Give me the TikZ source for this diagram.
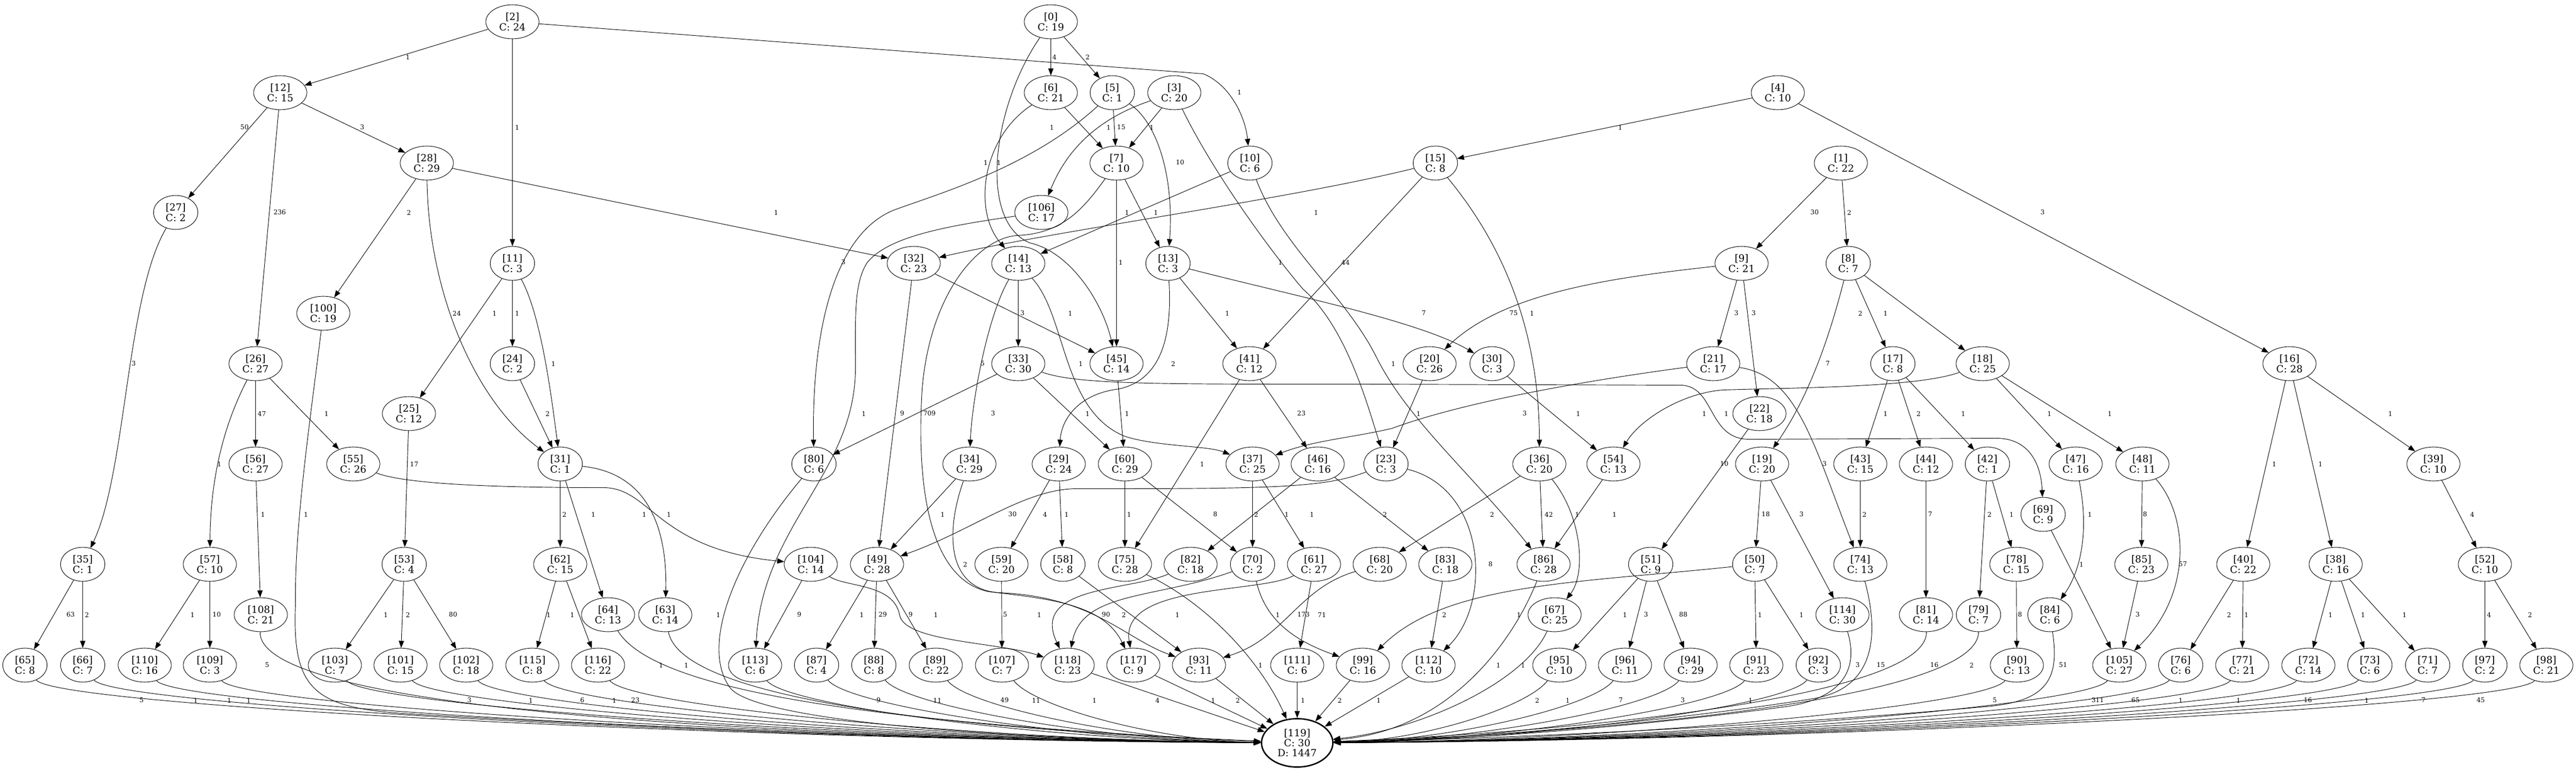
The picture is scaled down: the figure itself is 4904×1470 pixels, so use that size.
\documentclass[tikz,border=0pt]{standalone}
\usepackage{fontspec}
\setmainfont{DejaVu Serif}
\usetikzlibrary{shapes.geometric,arrows.meta}
\tikzset{
  st/.style={draw,ellipse,line width=0.7pt,align=center,inner xsep=8pt,inner ysep=4.5pt,font=\fontsize{14}{14.5}\selectfont},
  fin/.style={st,line width=2pt},
  lbl/.style={inner sep=0pt,font=\fontsize{9.2}{10}\selectfont},
  edge/.style={line width=0.7pt,-{Triangle[length=10pt,width=7.5pt]}}
}
\begin{document}
\begin{tikzpicture}[x=0.75pt,y=0.75pt,yscale=-1,xscale=1]
\useasboundingbox (0,0) rectangle (4904,1470);
\begin{scope}[shift={(0.5,0.5)}]

% Nodes
\node[st] (n2) at (975,41) {[2]\\C: 24};
\node[st] (n0) at (2000,41) {[0]\\C: 19};
\node[st] (n12) at (533,176) {[12]\\C: 15};
\node[st] (n6) at (2000,176) {[6]\\C: 21};
\node[st] (n5) at (2117,176) {[5]\\C: 1};
\node[st] (n3) at (2235,176) {[3]\\C: 20};
\node[st] (n4) at (3384,176) {[4]\\C: 10};
\node[st] (n28) at (812,310) {[28]\\C: 29};
\node[st] (n7) at (2125,310) {[7]\\C: 10};
\node[st] (n10) at (2379,310) {[10]\\C: 6};
\node[st] (n15) at (2732,310) {[15]\\C: 8};
\node[st] (n1) at (3504,310) {[1]\\C: 22};
\node[st] (n27) at (334,404) {[27]\\C: 2};
\node[st] (n106) at (1982,404) {[106]\\C: 17};
\node[st] (n11) at (975,501) {[11]\\C: 3};
\node[st] (n32) at (1739,501) {[32]\\C: 23};
\node[st] (n14) at (1938,501) {[14]\\C: 13};
\node[st] (n13) at (2223,501) {[13]\\C: 3};
\node[st] (n9) at (3315,501) {[9]\\C: 21};
\node[st] (n8) at (3518,501) {[8]\\C: 7};
\node[st] (n100) at (615,596) {[100]\\C: 19};
\node[st] (n26) at (486,692) {[26]\\C: 27};
\node[st] (n24) at (975,692) {[24]\\C: 2};
\node[st] (n33) at (1938,692) {[33]\\C: 30};
\node[st] (n45) at (2125,692) {[45]\\C: 14};
\node[st] (n41) at (2378,692) {[41]\\C: 12};
\node[st] (n20) at (2721,692) {[20]\\C: 26};
\node[st] (n30) at (2840,692) {[30]\\C: 3};
\node[st] (n21) at (3261,692) {[21]\\C: 17};
\node[st] (n17) at (3603,692) {[17]\\C: 8};
\node[st] (n18) at (3774,692) {[18]\\C: 25};
\node[st] (n16) at (4358,692) {[16]\\C: 28};
\node[st] (n25) at (778,787) {[25]\\C: 12};
\node[st] (n22) at (3349,787) {[22]\\C: 18};
\node[st] (n56) at (486,883) {[56]\\C: 27};
\node[st] (n55) at (672,883) {[55]\\C: 26};
\node[st] (n31) at (1066,883) {[31]\\C: 1};
\node[st] (n80) at (1549,883) {[80]\\C: 6};
\node[st] (n34) at (1845,883) {[34]\\C: 29};
\node[st] (n29) at (2015,883) {[29]\\C: 24};
\node[st] (n60) at (2141,883) {[60]\\C: 29};
\node[st] (n37) at (2384,883) {[37]\\C: 25};
\node[st] (n46) at (2508,883) {[46]\\C: 16};
\node[st] (n23) at (2638,883) {[23]\\C: 3};
\node[st] (n36) at (2930,883) {[36]\\C: 20};
\node[st] (n54) at (3071,883) {[54]\\C: 13};
\node[st] (n19) at (3354,883) {[19]\\C: 20};
\node[st] (n43) at (3541,883) {[43]\\C: 15};
\node[st] (n44) at (3666,883) {[44]\\C: 12};
\node[st] (n42) at (3783,883) {[42]\\C: 1};
\node[st] (n47) at (3951,883) {[47]\\C: 16};
\node[st] (n48) at (4078,883) {[48]\\C: 11};
\node[st] (n39) at (4632,883) {[39]\\C: 10};
\node[st] (n69) at (3889,979) {[69]\\C: 9};
\node[st] (n35) at (157,1074) {[35]\\C: 1};
\node[st] (n57) at (399,1074) {[57]\\C: 10};
\node[st] (n53) at (769,1074) {[53]\\C: 4};
\node[st] (n62) at (1066,1074) {[62]\\C: 15};
\node[st] (n104) at (1543,1074) {[104]\\C: 14};
\node[st] (n49) at (1669,1074) {[49]\\C: 28};
\node[st] (n59) at (1906,1074) {[59]\\C: 20};
\node[st] (n58) at (2023,1074) {[58]\\C: 8};
\node[st] (n75) at (2141,1074) {[75]\\C: 28};
\node[st] (n82) at (2266,1074) {[82]\\C: 18};
\node[st] (n70) at (2384,1074) {[70]\\C: 2};
\node[st] (n61) at (2501,1074) {[61]\\C: 27};
\node[st] (n68) at (2626,1074) {[68]\\C: 20};
\node[st] (n83) at (2751,1074) {[83]\\C: 18};
\node[st] (n86) at (2938,1074) {[86]\\C: 28};
\node[st] (n51) at (3142,1074) {[51]\\C: 9};
\node[st] (n50) at (3340,1074) {[50]\\C: 7};
\node[st] (n74) at (3541,1074) {[74]\\C: 13};
\node[st] (n78) at (3838,1074) {[78]\\C: 15};
\node[st] (n85) at (4076,1074) {[85]\\C: 23};
\node[st] (n40) at (4270,1074) {[40]\\C: 22};
\node[st] (n38) at (4446,1074) {[38]\\C: 16};
\node[st] (n52) at (4730,1074) {[52]\\C: 10};
\node[st] (n108) at (496,1170) {[108]\\C: 21};
\node[st] (n64) at (1157,1170) {[64]\\C: 13};
\node[st] (n63) at (1266,1170) {[63]\\C: 14};
\node[st] (n67) at (2959,1170) {[67]\\C: 25};
\node[st] (n114) at (3507,1170) {[114]\\C: 30};
\node[st] (n81) at (3666,1170) {[81]\\C: 14};
\node[st] (n79) at (3766,1170) {[79]\\C: 7};
\node[st] (n84) at (3902,1170) {[84]\\C: 6};
\node[st] (n65) at (47,1266) {[65]\\C: 8};
\node[st] (n66) at (157,1266) {[66]\\C: 7};
\node[st] (n110) at (275,1266) {[110]\\C: 16};
\node[st] (n109) at (399,1266) {[109]\\C: 3};
\node[st] (n103) at (637,1266) {[103]\\C: 7};
\node[st] (n101) at (762,1266) {[101]\\C: 15};
\node[st] (n102) at (887,1266) {[102]\\C: 18};
\node[st] (n115) at (1013,1266) {[115]\\C: 8};
\node[st] (n116) at (1138,1266) {[116]\\C: 22};
\node[st] (n113) at (1437,1266) {[113]\\C: 6};
\node[st] (n87) at (1554,1266) {[87]\\C: 4};
\node[st] (n88) at (1663,1266) {[88]\\C: 8};
\node[st] (n89) at (1781,1266) {[89]\\C: 22};
\node[st] (n107) at (1907,1266) {[107]\\C: 7};
\node[st] (n118) at (2032,1266) {[118]\\C: 23};
\node[st] (n117) at (2157,1266) {[117]\\C: 9};
\node[st] (n93) at (2282,1266) {[93]\\C: 11};
\node[st] (n111) at (2469,1266) {[111]\\C: 6};
\node[st] (n99) at (2594,1266) {[99]\\C: 16};
\node[st] (n112) at (2719,1266) {[112]\\C: 10};
\node[st] (n95) at (2968,1266) {[95]\\C: 10};
\node[st] (n96) at (3093,1266) {[96]\\C: 11};
\node[st] (n94) at (3218,1266) {[94]\\C: 29};
\node[st] (n91) at (3343,1266) {[91]\\C: 23};
\node[st] (n92) at (3461,1266) {[92]\\C: 3};
\node[st] (n90) at (3839,1266) {[90]\\C: 13};
\node[st] (n105) at (4034,1266) {[105]\\C: 27};
\node[st] (n76) at (4151,1266) {[76]\\C: 6};
\node[st] (n77) at (4268,1266) {[77]\\C: 21};
\node[st] (n72) at (4394,1266) {[72]\\C: 14};
\node[st] (n73) at (4511,1266) {[73]\\C: 6};
\node[st] (n71) at (4621,1266) {[71]\\C: 7};
\node[st] (n97) at (4730,1266) {[97]\\C: 2};
\node[st] (n98) at (4847,1266) {[98]\\C: 21};
\node[fin] (n119) at (2469,1414) {[119]\\C: 30\\D: 1447};

% Edges from the top ranks
\draw[edge] (n2) -- (n12);
\draw[edge] (n2) -- (n11);
\draw[edge] (n2) -- (2290,140) .. controls (2340,160) and (2370,220) .. (n10);
\draw[edge] (n0) -- (n6);
\draw[edge] (n0) -- (n5);
\draw[edge] (n0) .. controls (1890,200) and (1860,420) .. (1960,462) .. controls (2040,480) and (2100,580) .. (n45);
\draw[edge] (n12) -- (n27);
\draw[edge] (n12) -- (n26);
\draw[edge] (n12) -- (n28);
\draw[edge] (n6) -- (n7);
\draw[edge] (n6) .. controls (1870,260) and (1850,400) .. (n14);
\draw[edge] (n5) -- (n7);
\draw[edge] (n5) .. controls (2200,230) and (2235,330) .. (n13);
\draw[edge] (n5) .. controls (1960,320) and (1780,370) .. (1700,400) .. controls (1580,450) and (1545,650) .. (n80);
\draw[edge] (n3) -- (n7);
\draw[edge] (n3) .. controls (2120,215) and (2040,260) .. (n106);
\draw[edge] (n3) .. controls (2310,330) and (2420,480) .. (2480,550) .. controls (2560,620) and (2600,760) .. (n23);
\draw[edge] (n4) -- (n15);
\draw[edge] (n4) -- (n16);
\draw[edge] (n28) -- (n100);
\draw[edge] (n28) .. controls (815,550) and (900,760) .. (n31);
\draw[edge] (n28) -- (n32);
\draw[edge] (n7) -- (n45);
\draw[edge] (n7) -- (n13);
\draw[edge] (n7) .. controls (2060,400) and (2020,445) .. (1934,448) .. controls (1860,455) and (1770,560) .. (1755,740) .. controls (1745,900) and (1760,1100) .. (1881,1126) .. controls (2000,1140) and (2100,1150) .. (n117);
\draw[edge] (n10) -- (n14);
\draw[edge] (n10) .. controls (2440,470) and (2560,560) .. (2620,680) .. controls (2680,800) and (2800,900) .. (n86);
\draw[edge] (n15) .. controls (2450,380) and (2000,440) .. (n32);
\draw[edge] (n15) -- (n41);
\draw[edge] (n15) .. controls (2840,440) and (2930,600) .. (n36);
\draw[edge] (n1) -- (n9);
\draw[edge] (n1) -- (n8);
\draw[edge] (n27) .. controls (240,560) and (240,900) .. (n35);
\draw[edge] (n106) .. controls (1800,430) and (1690,450) .. (1650,500) .. controls (1625,540) and (1628,600) .. (1628,700) .. controls (1628,900) and (1450,1000) .. (n113);
\draw[edge] (n11) -- (n25);
\draw[edge] (n11) -- (n24);
\draw[edge] (n11) .. controls (1030,600) and (1050,760) .. (n31);
\draw[edge] (n32) -- (n45);
\draw[edge] (n32) -- (n49);
\draw[edge] (n14) -- (n33);
\draw[edge] (n14) .. controls (1880,600) and (1850,760) .. (n34);
\draw[edge] (n14) .. controls (2030,600) and (2020,780) .. (2140,830) .. controls (2200,850) and (2300,848) .. (n37);
\draw[edge] (n13) -- (n41);
\draw[edge] (n13) .. controls (2450,560) and (2700,610) .. (n30);
\draw[edge] (n13) .. controls (2230,620) and (2220,720) .. (2130,740) .. controls (2050,750) and (2020,800) .. (n29);
\draw[edge] (n9) -- (n21);
\draw[edge] (n9) -- (n22);
\draw[edge] (n9) .. controls (3050,530) and (2860,560) .. (n20);
\draw[edge] (n8) -- (n17);
\draw[edge] (n8) -- (n18);
\draw[edge] (n8) .. controls (3480,650) and (3440,760) .. (n19);
\draw[edge] (n100) .. controls (590,800) and (560,1000) .. (562,1150) .. controls (555,1320) and (600,1350) .. (800,1360) .. controls (1400,1395) and (2000,1412) .. (n119);

% Edges from the middle ranks
\draw[edge] (n26) .. controls (430,800) and (400,900) .. (n57);
\draw[edge] (n26) -- (n56);
\draw[edge] (n26) -- (n55);
\draw[edge] (n24) -- (n31);
\draw[edge] (n33) -- (n80);
\draw[edge] (n33) -- (n60);
\draw[edge] (n33) .. controls (2050,732) and (2200,731) .. (2600,731) -- (3200,733) .. controls (3265,735) and (3250,836) .. (3330,836) -- (3800,834) .. controls (3860,834) and (3885,880) .. (n69);
\draw[edge] (n45) -- (n60);
\draw[edge] (n41) -- (n75);
\draw[edge] (n41) -- (n46);
\draw[edge] (n20) -- (n23);
\draw[edge] (n30) -- (n54);
\draw[edge] (n21) .. controls (3050,720) and (2800,760) .. (2650,815) .. controls (2580,832) and (2500,838) .. (n37);
\draw[edge] (n21) .. controls (3420,715) and (3450,840) .. (n74);
\draw[edge] (n17) -- (n43);
\draw[edge] (n17) -- (n44);
\draw[edge] (n17) -- (n42);
\draw[edge] (n18) -- (n47);
\draw[edge] (n18) -- (n48);
\draw[edge] (n18) .. controls (3650,738) and (3400,738) .. (3280,742) .. controls (3200,748) and (3120,800) .. (n54);
\draw[edge] (n16) -- (n40);
\draw[edge] (n16) -- (n38);
\draw[edge] (n16) -- (n39);
\draw[edge] (n25) -- (n53);
\draw[edge] (n22) -- (n51);
\draw[edge] (n56) -- (n108);
\draw[edge] (n55) .. controls (780,925) and (1000,928) .. (1150,928) .. controls (1240,930) and (1250,1045) .. (n104);
\draw[edge] (n31) -- (n62);
\draw[edge] (n31) -- (n64);
\draw[edge] (n31) .. controls (1230,900) and (1270,1000) .. (n63);
\draw[edge] (n80) .. controls (1400,1060) and (1330,1230) .. (1390,1310) .. controls (1450,1380) and (2000,1410) .. (n119);
\draw[edge] (n34) -- (n49);
\draw[edge] (n34) .. controls (1800,1010) and (1800,1120) .. (1900,1128) .. controls (2080,1135) and (2140,1215) .. (n93);
\draw[edge] (n29) -- (n59);
\draw[edge] (n29) -- (n58);
\draw[edge] (n60) -- (n75);
\draw[edge] (n60) -- (n70);
\draw[edge] (n37) -- (n70);
\draw[edge] (n37) -- (n61);
\draw[edge] (n46) -- (n82);
\draw[edge] (n46) -- (n83);
\draw[edge] (n23) .. controls (2520,930) and (2400,930) .. (2050,930) .. controls (1950,930) and (1850,1010) .. (n49);
\draw[edge] (n23) .. controls (2830,930) and (2840,1150) .. (n112);
\draw[edge] (n36) -- (n68);
\draw[edge] (n36) -- (n86);
\draw[edge] (n36) .. controls (3010,980) and (3020,1090) .. (n67);
\draw[edge] (n54) -- (n86);
\draw[edge] (n19) -- (n50);
\draw[edge] (n19) -- (n114);
\draw[edge] (n43) -- (n74);
\draw[edge] (n44) -- (n81);
\draw[edge] (n42) -- (n79);
\draw[edge] (n42) -- (n78);
\draw[edge] (n47) .. controls (3975,1000) and (3965,1080) .. (n84);
\draw[edge] (n48) -- (n85);
\draw[edge] (n48) .. controls (4165,980) and (4175,1130) .. (n105);
\draw[edge] (n39) -- (n52);
\draw[edge] (n69) -- (n105);

% Edges from the lower ranks
\draw[edge] (n35) -- (n65);
\draw[edge] (n35) -- (n66);
\draw[edge] (n57) -- (n110);
\draw[edge] (n57) -- (n109);
\draw[edge] (n53) -- (n103);
\draw[edge] (n53) -- (n101);
\draw[edge] (n53) -- (n102);
\draw[edge] (n62) -- (n115);
\draw[edge] (n62) -- (n116);
\draw[edge] (n104) -- (n113);
\draw[edge] (n104) .. controls (1610,1118) and (1700,1110) .. (1712,1170) .. controls (1720,1222) and (1900,1222) .. (n118);
\draw[edge] (n49) -- (n87);
\draw[edge] (n49) -- (n88);
\draw[edge] (n49) -- (n89);
\draw[edge] (n59) -- (n107);
\draw[edge] (n58) -- (n93);
\draw[edge] (n75) .. controls (2300,1150) and (2400,1260) .. (n119);
\draw[edge] (n82) .. controls (2150,1125) and (1960,1115) .. (n118);
\draw[edge] (n70) .. controls (2200,1140) and (2060,1125) .. (n118);
\draw[edge] (n70) .. controls (2410,1190) and (2480,1225) .. (n99);
\draw[edge] (n61) -- (n111);
\draw[edge] (n61) .. controls (2400,1130) and (2130,1110) .. (n117);
\draw[edge] (n68) .. controls (2470,1120) and (2445,1215) .. (n93);
\draw[edge] (n83) -- (n112);
\draw[edge] (n86) .. controls (2880,1220) and (2760,1390) .. (n119);
\draw[edge] (n51) -- (n95);
\draw[edge] (n51) -- (n96);
\draw[edge] (n51) -- (n94);
\draw[edge] (n50) -- (n91);
\draw[edge] (n50) -- (n92);
\draw[edge] (n50) .. controls (3000,1110) and (2750,1110) .. (n99);
\draw[edge] (n74) .. controls (3575,1200) and (3575,1310) .. (3450,1330) .. controls (3200,1370) and (2800,1408) .. (n119);
\draw[edge] (n78) -- (n90);
\draw[edge] (n85) -- (n105);
\draw[edge] (n40) -- (n76);
\draw[edge] (n40) -- (n77);
\draw[edge] (n38) -- (n72);
\draw[edge] (n38) -- (n73);
\draw[edge] (n38) -- (n71);
\draw[edge] (n52) -- (n97);
\draw[edge] (n52) -- (n98);
\draw[edge] (n108) .. controls (490,1330) and (1200,1400) .. (n119);
\draw[edge] (n64) .. controls (1230,1290) and (1500,1370) .. (n119);
\draw[edge] (n63) .. controls (1290,1300) and (1600,1380) .. (n119);
\draw[edge] (n67) .. controls (2900,1300) and (2700,1390) .. (n119);
\draw[edge] (n114) .. controls (3540,1280) and (3500,1330) .. (3400,1345) .. controls (3100,1385) and (2800,1408) .. (n119);
\draw[edge] (n81) .. controls (3670,1330) and (2966,1395) .. (n119);
\draw[edge] (n79) .. controls (3766,1330) and (3066,1395) .. (n119);
\draw[edge] (n84) .. controls (3920,1290) and (3900,1335) .. (3780,1345) .. controls (3400,1380) and (2900,1405) .. (n119);

% Edges from the bottom rank into [119]
\draw[edge] (n65) .. controls (107,1345) and (1459,1410) .. (n119);
\draw[edge] (n66) .. controls (217,1345) and (1503,1410) .. (n119);
\draw[edge] (n110) .. controls (335,1345) and (1551,1410) .. (n119);
\draw[edge] (n109) .. controls (459,1345) and (1600,1410) .. (n119);
\draw[edge] (n103) .. controls (697,1345) and (1695,1410) .. (n119);
\draw[edge] (n101) .. controls (822,1345) and (1745,1410) .. (n119);
\draw[edge] (n102) .. controls (947,1345) and (1795,1410) .. (n119);
\draw[edge] (n115) .. controls (1073,1345) and (1846,1410) .. (n119);
\draw[edge] (n116) .. controls (1198,1345) and (1896,1410) .. (n119);
\draw[edge] (n113) .. controls (1497,1345) and (2015,1410) .. (n119);
\draw[edge] (n87) .. controls (1614,1345) and (2062,1410) .. (n119);
\draw[edge] (n88) .. controls (1723,1345) and (2106,1410) .. (n119);
\draw[edge] (n89) .. controls (1841,1345) and (2153,1410) .. (n119);
\draw[edge] (n107) .. controls (1967,1345) and (2203,1410) .. (n119);
\draw[edge] (n118) -- (n119);
\draw[edge] (n117) -- (n119);
\draw[edge] (n93) -- (n119);
\draw[edge] (n111) -- (n119);
\draw[edge] (n99) -- (n119);
\draw[edge] (n112) -- (n119);
\draw[edge] (n95) .. controls (2908,1345) and (2709,1410) .. (n119);
\draw[edge] (n96) .. controls (3033,1345) and (2759,1410) .. (n119);
\draw[edge] (n94) .. controls (3158,1345) and (2809,1410) .. (n119);
\draw[edge] (n91) .. controls (3283,1345) and (2859,1410) .. (n119);
\draw[edge] (n92) .. controls (3401,1345) and (2907,1410) .. (n119);
\draw[edge] (n90) .. controls (3779,1345) and (3058,1410) .. (n119);
\draw[edge] (n105) .. controls (3974,1345) and (3136,1410) .. (n119);
\draw[edge] (n76) .. controls (4091,1345) and (3183,1410) .. (n119);
\draw[edge] (n77) .. controls (4208,1345) and (3229,1410) .. (n119);
\draw[edge] (n72) .. controls (4334,1345) and (3280,1410) .. (n119);
\draw[edge] (n73) .. controls (4451,1345) and (3327,1410) .. (n119);
\draw[edge] (n71) .. controls (4561,1345) and (3371,1410) .. (n119);
\draw[edge] (n97) .. controls (4670,1345) and (3414,1410) .. (n119);
\draw[edge] (n98) .. controls (4787,1345) and (3461,1410) .. (n119);

% Edge labels
\node[lbl] (t2x12) at (776,108) {1};
\node[lbl] (t0x6) at (2007,108) {4};
\node[lbl] (t0x5) at (2070,108) {2};
\node[lbl] (t2x10) at (2359,175) {1};
\node[lbl] (t4x15) at (3084,242) {1};
\node[lbl] (t12x27) at (465,242) {50};
\node[lbl] (t12x28) at (689,242) {3};
\node[lbl] (t2x11) at (984,242) {1};
\node[lbl] (t6x7) at (2002,242) {1};
\node[lbl] (t3x106) at (2110,242) {1};
\node[lbl] (t5x7) at (2134,242) {15};
\node[lbl] (t3x7) at (2192,242) {1};
\node[lbl] (t6x14) at (1876,309) {1};
\node[lbl] (t0x45) at (1901,309) {1};
\node[lbl] (t5x13) at (2246,309) {10};
\node[lbl] (t12x26) at (532,404) {236};
\node[lbl] (t28x100) at (778,404) {2};
\node[lbl] (t28x32) at (1477,404) {1};
\node[lbl] (t10x14) at (2145,404) {1};
\node[lbl] (t7x13) at (2200,404) {1};
\node[lbl] (t15x32) at (2505,404) {1};
\node[lbl] (t1x9) at (3454,404) {30};
\node[lbl] (t1x8) at (3520,404) {2};
\node[lbl] (t4x16) at (3888,404) {3};
\node[lbl] (t5x80) at (1605,499) {3};
\node[lbl] (t7x45) at (2133,499) {1};
\node[lbl] (t3x23) at (2437,499) {1};
\node[lbl] (t15x41) at (2561,499) {44};
\node[lbl] (t28x31) at (869,596) {24};
\node[lbl] (t11x25) at (941,596) {1};
\node[lbl] (t11x24) at (984,596) {1};
\node[lbl] (t14x33) at (1946,596) {3};
\node[lbl] (t32x45) at (2037,596) {1};
\node[lbl] (t13x41) at (2336,596) {1};
\node[lbl] (t13x30) at (2710,596) {7};
\node[lbl] (t9x20) at (2881,596) {75};
\node[lbl] (t15x36) at (2916,596) {1};
\node[lbl] (t9x21) at (3305,596) {3};
\node[lbl] (t9x22) at (3338,596) {3};
\node[lbl] (t8x17) at (3541,596) {2};
\node[lbl] (t8x18) at (3589,596) {1};
\node[lbl] (t27x35) at (254,692) {3};
\node[lbl] (t11x31) at (1053,692) {1};
\node[lbl] (t14x34) at (1870,692) {5};
\node[lbl] (t14x37) at (2057,692) {1};
\node[lbl] (t13x29) at (2233,692) {2};
\node[lbl] (t10x86) at (2652,692) {1};
\node[lbl] (t8x19) at (3479,692) {7};
\node[lbl] (t26x56) at (498,787) {47};
\node[lbl] (t26x55) at (621,787) {1};
\node[lbl] (t24x31) at (1042,787) {2};
\node[lbl] (t106x113) at (1644,787) {1};
\node[lbl] (t32x49) at (1717,787) {9};
\node[lbl] (t7x117) at (1769,787) {709};
\node[lbl] (t33x80) at (1890,787) {3};
\node[lbl] (t33x60) at (2070,787) {1};
\node[lbl] (t45x60) at (2145,787) {1};
\node[lbl] (t41x46) at (2477,787) {23};
\node[lbl] (t20x23) at (2700,787) {1};
\node[lbl] (t21x37) at (2902,787) {3};
\node[lbl] (t30x54) at (3004,787) {1};
\node[lbl] (t18x54) at (3244,787) {1};
\node[lbl] (t33x69) at (3286,787) {1};
\node[lbl] (t17x43) at (3589,787) {1};
\node[lbl] (t17x44) at (3652,787) {2};
\node[lbl] (t17x42) at (3737,787) {1};
\node[lbl] (t18x47) at (3901,787) {1};
\node[lbl] (t18x48) at (4016,787) {1};
\node[lbl] (t16x39) at (4550,787) {1};
\node[lbl] (t26x57) at (417,883) {1};
\node[lbl] (t25x53) at (788,883) {17};
\node[lbl] (t41x75) at (2288,883) {1};
\node[lbl] (t22x51) at (3282,883) {10};
\node[lbl] (t21x74) at (3473,883) {3};
\node[lbl] (t16x40) at (4329,883) {1};
\node[lbl] (t16x38) at (4417,883) {1};
\node[lbl] (t56x108) at (500,979) {1};
\node[lbl] (t100x119) at (582,979) {1};
\node[lbl] (t31x62) at (1074,979) {2};
\node[lbl] (t31x64) at (1129,979) {1};
\node[lbl] (t55x104) at (1226,979) {1};
\node[lbl] (t31x63) at (1273,979) {1};
\node[lbl] (t34x49) at (1794,979) {1};
\node[lbl] (t23x49) at (1927,979) {30};
\node[lbl] (t29x59) at (1989,979) {4};
\node[lbl] (t29x58) at (2030,979) {1};
\node[lbl] (t60x75) at (2149,979) {1};
\node[lbl] (t60x70) at (2313,979) {8};
\node[lbl] (t37x70) at (2391,979) {2};
\node[lbl] (t46x82) at (2449,979) {1};
\node[lbl] (t37x61) at (2497,979) {1};
\node[lbl] (t46x83) at (2636,979) {2};
\node[lbl] (t36x68) at (2840,979) {2};
\node[lbl] (t36x86) at (2948,979) {42};
\node[lbl] (t36x67) at (3002,979) {1};
\node[lbl] (t54x86) at (3073,979) {1};
\node[lbl] (t19x50) at (3361,979) {18};
\node[lbl] (t19x114) at (3429,979) {3};
\node[lbl] (t43x74) at (3549,979) {2};
\node[lbl] (t44x81) at (3674,979) {7};
\node[lbl] (t42x79) at (3787,979) {2};
\node[lbl] (t42x78) at (3829,979) {1};
\node[lbl] (t47x84) at (3978,979) {1};
\node[lbl] (t48x85) at (4083,979) {8};
\node[lbl] (t39x52) at (4706,979) {4};
\node[lbl] (t34x93) at (1837,1074) {2};
\node[lbl] (t23x112) at (2837,1074) {8};
\node[lbl] (t69x105) at (3962,1074) {1};
\node[lbl] (t48x105) at (4155,1074) {57};
\node[lbl] (t35x65) at (134,1170) {63};
\node[lbl] (t35x66) at (165,1170) {2};
\node[lbl] (t57x110) at (366,1170) {1};
\node[lbl] (t57x109) at (412,1170) {10};
\node[lbl] (t53x103) at (734,1170) {1};
\node[lbl] (t53x101) at (776,1170) {2};
\node[lbl] (t53x102) at (862,1170) {80};
\node[lbl] (t62x115) at (1044,1170) {1};
\node[lbl] (t62x116) at (1089,1170) {1};
\node[lbl] (t80x119) at (1367,1170) {1};
\node[lbl] (t104x113) at (1521,1170) {9};
\node[lbl] (t49x87) at (1640,1170) {1};
\node[lbl] (t49x88) at (1680,1170) {29};
\node[lbl] (t104x118) at (1733,1170) {9};
\node[lbl] (t49x89) at (1781,1170) {1};
\node[lbl] (t59x107) at (1913,1170) {5};
\node[lbl] (t82x118) at (1978,1170) {1};
\node[lbl] (t70x118) at (2105,1170) {90};
\node[lbl] (t61x117) at (2139,1170) {2};
\node[lbl] (t58x93) at (2241,1170) {1};
\node[lbl] (t70x99) at (2432,1170) {1};
\node[lbl] (t68x93) at (2481,1170) {173};
\node[lbl] (t61x111) at (2516,1170) {71};
\node[lbl] (t83x112) at (2749,1170) {2};
\node[lbl] (t86x119) at (2891,1170) {1};
\node[lbl] (t51x95) at (3093,1170) {1};
\node[lbl] (t51x96) at (3133,1170) {3};
\node[lbl] (t51x94) at (3204,1170) {88};
\node[lbl] (t50x91) at (3350,1170) {1};
\node[lbl] (t50x92) at (3429,1170) {1};
\node[lbl] (t78x90) at (3845,1170) {8};
\node[lbl] (t85x105) at (4069,1170) {3};
\node[lbl] (t40x76) at (4243,1170) {2};
\node[lbl] (t40x77) at (4276,1170) {1};
\node[lbl] (t38x72) at (4436,1170) {1};
\node[lbl] (t38x73) at (4498,1170) {1};
\node[lbl] (t38x71) at (4577,1170) {1};
\node[lbl] (t52x97) at (4738,1170) {4};
\node[lbl] (t52x98) at (4816,1170) {2};
\node[lbl] (t108x119) at (508,1266) {5};
\node[lbl] (t64x119) at (1258,1266) {1};
\node[lbl] (t63x119) at (1306,1266) {1};
\node[lbl] (t75x119) at (2399,1266) {1};
\node[lbl] (t50x99) at (2852,1266) {1};
\node[lbl] (t67x119) at (2899,1266) {1};
\node[lbl] (t114x119) at (3536,1266) {3};
\node[lbl] (t74x119) at (3580,1266) {15};
\node[lbl] (t81x119) at (3682,1266) {16};
\node[lbl] (t79x119) at (3753,1266) {2};
\node[lbl] (t84x119) at (3927,1266) {51};
\node[lbl] (t65x119) at (269,1333) {5};
\node[lbl] (t66x119) at (372,1333) {1};
\node[lbl] (t110x119) at (436,1333) {1};
\node[lbl] (t109x119) at (473,1333) {1};
\node[lbl] (t103x119) at (893,1333) {3};
\node[lbl] (t101x119) at (1010,1333) {1};
\node[lbl] (t102x119) at (1108,1333) {6};
\node[lbl] (t115x119) at (1169,1333) {1};
\node[lbl] (t116x119) at (1209,1333) {23};
\node[lbl] (t113x119) at (1672,1333) {9};
\node[lbl] (t87x119) at (1784,1333) {11};
\node[lbl] (t88x119) at (1912,1333) {49};
\node[lbl] (t89x119) at (1972,1333) {11};
\node[lbl] (t107x119) at (2083,1333) {1};
\node[lbl] (t118x119) at (2203,1333) {4};
\node[lbl] (t117x119) at (2309,1333) {1};
\node[lbl] (t93x119) at (2356,1333) {2};
\node[lbl] (t111x119) at (2480,1333) {1};
\node[lbl] (t99x119) at (2550,1333) {2};
\node[lbl] (t112x119) at (2624,1333) {1};
\node[lbl] (t95x119) at (2926,1333) {2};
\node[lbl] (t96x119) at (2984,1333) {1};
\node[lbl] (t94x119) at (3085,1333) {7};
\node[lbl] (t91x119) at (3203,1333) {3};
\node[lbl] (t92x119) at (3332,1333) {1};
\node[lbl] (t90x119) at (3797,1333) {5};
\node[lbl] (t105x119) at (3993,1333) {311};
\node[lbl] (t76x119) at (4065,1333) {65};
\node[lbl] (t77x119) at (4151,1333) {1};
\node[lbl] (t72x119) at (4261,1333) {1};
\node[lbl] (t73x119) at (4393,1333) {16};
\node[lbl] (t71x119) at (4505,1333) {1};
\node[lbl] (t97x119) at (4613,1333) {7};
\node[lbl] (t98x119) at (4722,1333) {45};

\end{scope}
\end{tikzpicture}
\end{document}
